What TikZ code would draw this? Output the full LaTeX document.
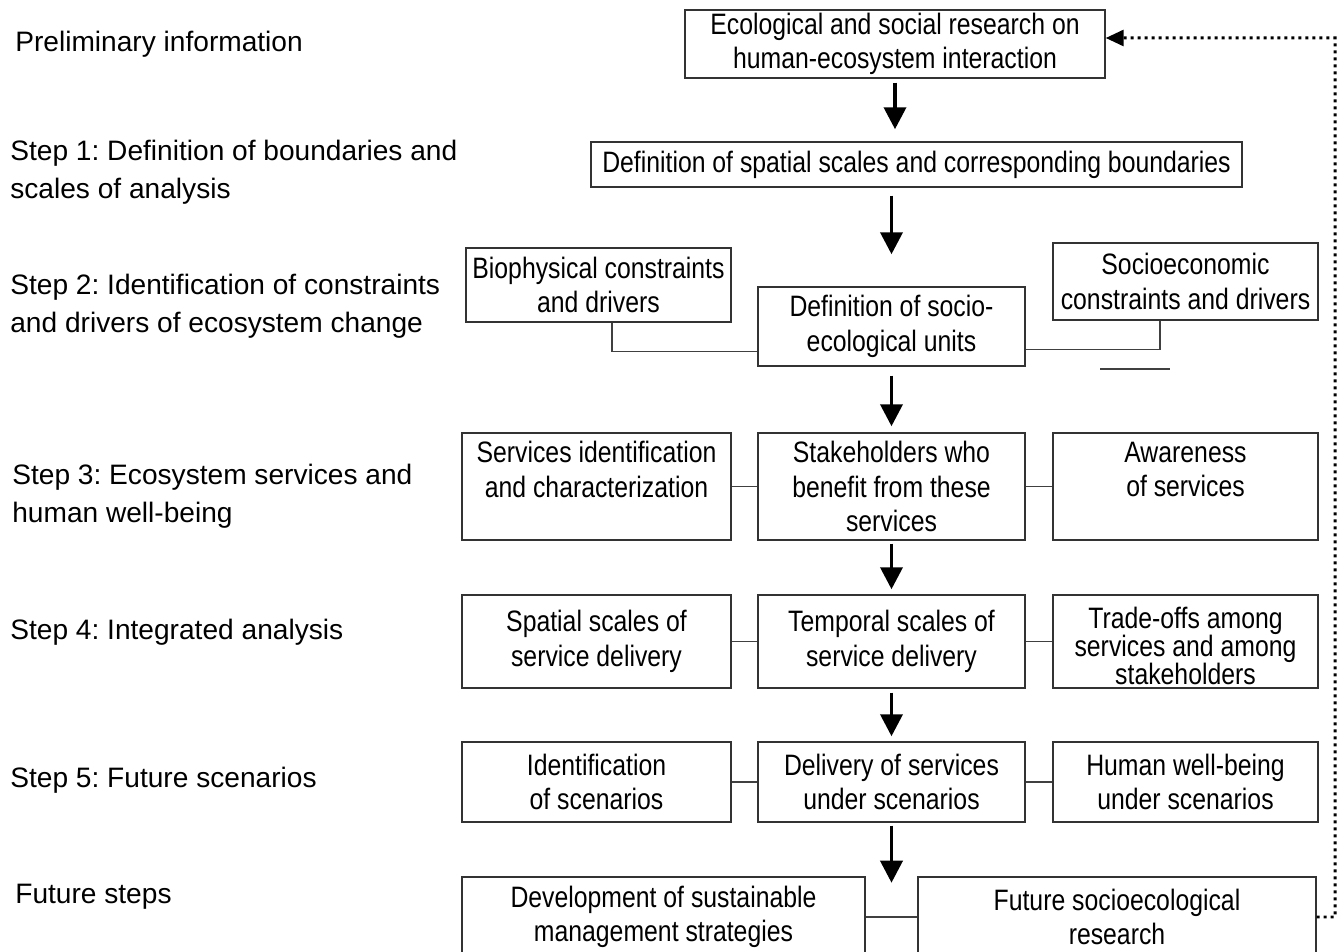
\documentclass[tikz,border=0pt]{standalone}
\usepackage{fontspec}
\setmainfont{Liberation Sans}
\newfontfamily\narrowfont[FakeStretch=0.84]{Liberation Sans}
\usepackage{tikz}
\usetikzlibrary{arrows.meta,positioning,calc}
\frenchspacing

\begin{document}
\begin{tikzpicture}[x=0.02cm, y=-0.02cm,
    box/.style={draw=black!80, line width=0.03cm, align=center, inner sep=0pt,
        font=\narrowfont\fontsize{16.8}{19.5}\selectfont},
    flow/.style={line width=0.075cm, -{Triangle[length=0.44cm,width=0.44cm]}},
    link/.style={draw=black!75, line width=0.035cm},
    feedback/.style={line width=0.06cm, dash pattern=on 0.06cm off 0.08cm,
        -{Triangle[length=0.36cm,width=0.32cm]}},
    steplabel/.style={anchor=west, align=left, inner sep=0pt,
        font=\fontsize{16}{21.5}\selectfont}]
    \useasboundingbox (0,0) rectangle (1340,952);

    % Step labels on the left
    \foreach \x/\y/\txt [count=\i] in {15/44/{Preliminary information},
        10/172/{Step 1: Definition of boundaries and\\scales of analysis},
        10/306/{Step 2: Identification of constraints\\and drivers of ecosystem change},
        12/496/{Step 3: Ecosystem services and\\human well-being},
        10/632/{Step 4: Integrated analysis},
        10/780/{Step 5: Future scenarios},
        15/897/{Future steps}}
        \node[steplabel] (lbl\i) at (\x,\y) {\txt};

    % Preliminary information and step 1
    \node[box, minimum width=8.4cm, minimum height=1.36cm] (research) at (895,44)
        {Ecological and social research on\\human-ecosystem interaction};
    \node[box, minimum width=13.02cm, minimum height=0.9cm] (scales) at (916.5,164.5)
        {Definition of spatial scales and corresponding boundaries};

    % Step 2
    \node[box, minimum width=5.3cm, minimum height=1.48cm] (bio) at (598.5,285)
        {Biophysical constraints\\and drivers};
    \node[box, minimum width=5.34cm, minimum height=1.58cm] (units) at (891.5,326.5)
        {Definition of socio-\\ecological units};
    \node[box, minimum width=5.3cm, minimum height=1.54cm] (socio) at (1185.5,281.5)
        {Socioeconomic\\constraints and drivers};

    % Step 3
    \node[box, minimum width=5.38cm, minimum height=2.14cm] (serv) at (596.5,486.5)
        {Services identification\\and characterization\\\mbox{}};
    \node[box, minimum width=5.34cm, minimum height=2.14cm] (stake) at (891.5,486.5)
        {Stakeholders who\\benefit from these\\services};
    \node[box, minimum width=5.3cm, minimum height=2.14cm] (aware) at (1185.5,486.5)
        {Awareness\\of services\\\mbox{}};

    % Step 4
    \node[box, minimum width=5.38cm, minimum height=1.86cm] (spatial) at (596.5,641.5)
        {Spatial scales of\\service delivery};
    \node[box, minimum width=5.34cm, minimum height=1.86cm] (temporal) at (891.5,641.5)
        {Temporal scales of\\service delivery};
    \node[box, minimum width=5.3cm, minimum height=1.86cm,
        font=\narrowfont\fontsize{16.8}{16}\selectfont] (trade) at (1185.5,641.5)
        {\rule{0pt}{17pt}Trade-offs among\\services and among\\stakeholders};

    % Step 5
    \node[box, minimum width=5.38cm, minimum height=1.6cm] (ident) at (596.5,782)
        {Identification\\of scenarios};
    \node[box, minimum width=5.34cm, minimum height=1.6cm] (deliv) at (891.5,782)
        {Delivery of services\\under scenarios};
    \node[box, minimum width=5.3cm, minimum height=1.6cm] (human) at (1185.5,782)
        {Human well-being\\under scenarios};

    % Future steps
    \node[box, minimum width=8.06cm, minimum height=1.6cm] (dev) at (663.5,917)
        {Development of sustainable\\management strategies};
    \node[box, minimum width=7.96cm, minimum height=1.6cm] (fut) at (1117,917)
        {Future socioecological\\research};

    % Main flow arrows
    \draw[flow, shorten <=0.08cm, shorten >=0.24cm] (research.south) -- (research.south |- scales.north);
    \draw[flow, shorten <=0.16cm, shorten >=0.64cm] (units.north |- scales.south) -- (units.north);
    \draw[flow, shorten <=0.18cm, shorten >=0.12cm] (units.south) -- (stake.north);
    \draw[flow, shorten <=0.06cm, shorten >=0.1cm] (stake.south) -- (temporal.north);
    \draw[flow, shorten <=0.08cm, shorten >=0.1cm] (temporal.south) -- (deliv.north);
    \draw[flow, shorten <=0.06cm] (deliv.south) -- ++(0,60);

    % Side links
    \draw[link] ([xshift=0.27cm]bio.south) |- ([yshift=-0.5cm]units.west);
    \draw[link] ([yshift=-0.46cm]units.east) -| ([xshift=-0.51cm]socio.south);
    \coordinate (strayA) at (1100,369);
    \coordinate (strayB) at (1170,369);
    \draw[link] (strayA) -- (strayB);
    \draw[link] (serv) -- (stake);
    \draw[link] (stake) -- (aware);
    \draw[link] (spatial) -- (temporal);
    \draw[link] (temporal) -- (trade);
    \draw[link] (ident) -- (deliv);
    \draw[link] (deliv) -- (human);
    \draw[link] (dev) -- (fut);

    % Feedback to research
    \coordinate (fbBot) at (1335,917);
    \coordinate (fbTop) at (1335,38);
    \draw[feedback] (fut.east) -- (fbBot) -- (fbTop) -- ([yshift=0.12cm]research.east);
\end{tikzpicture}
\end{document}
